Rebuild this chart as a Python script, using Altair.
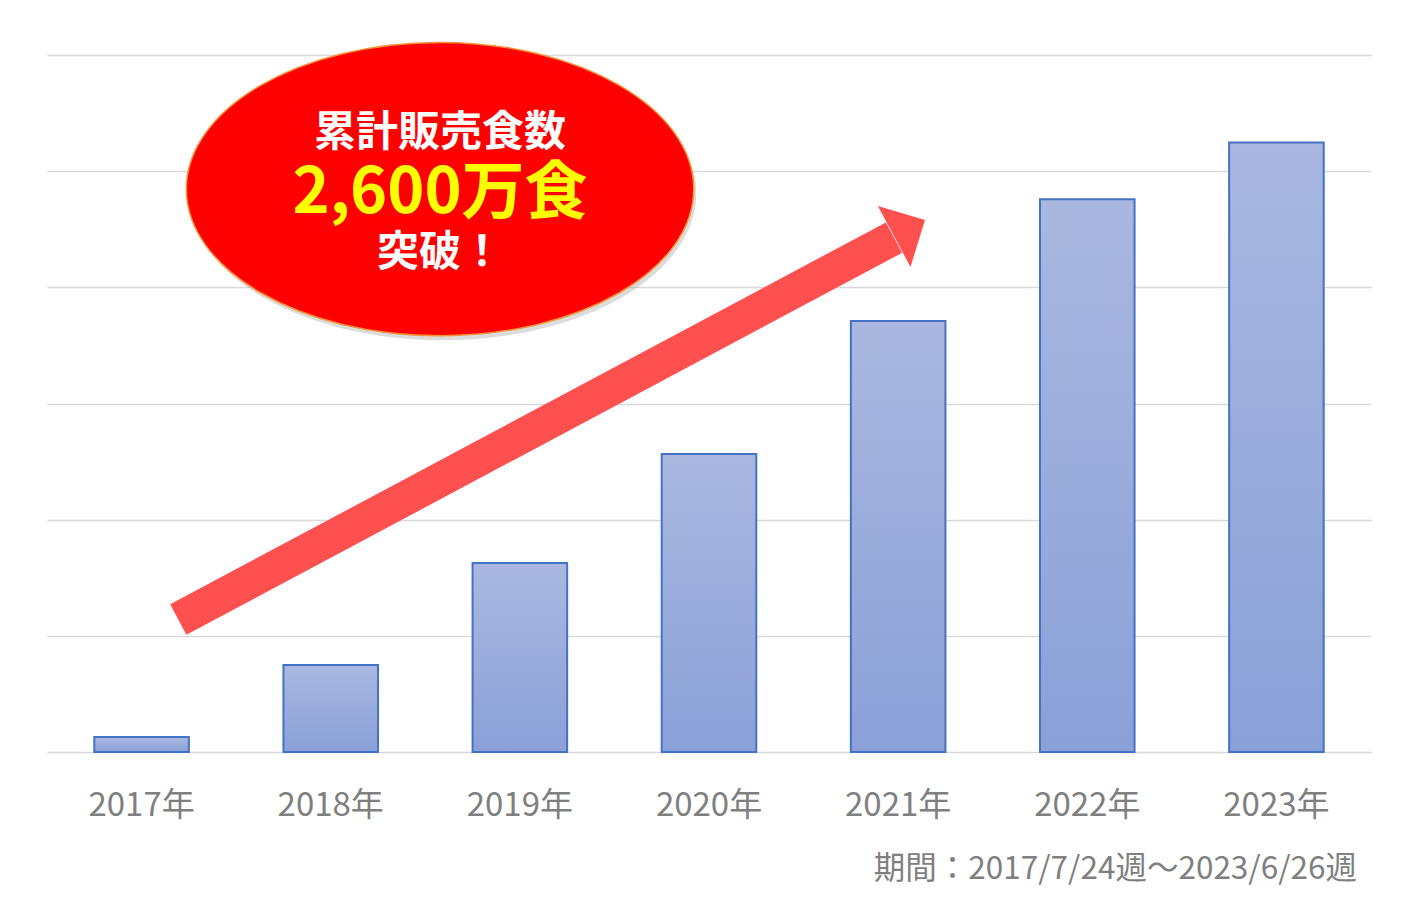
import altair as alt
import pandas as pd

# ---- chart data (cumulative meals sold, unit: 万食) ----
years = ["2017年", "2018年", "2019年", "2020年", "2021年", "2022年", "2023年"]
cumulative = [65, 374, 813, 1283, 1855, 2379, 2623]
y_ticks = [0, 500, 1000, 1500, 2000, 2500, 3000]

# ---- annotation texts ----
badge_lines = ["累計販売食数", "2,600万食", "突破！"]
footnote = "期間：2017/7/24週～2023/6/26週"

# annotation anchors in data space (x: category index 0..7, y: 万食)
badge_center = (2.078, 2423)
badge_line_y = [2664, 2402, 2148]
arrow_tail = (0.694, 570)
arrow_neck = (4.478, 2214)
arrow_tip = (4.642, 2290)

FONT = "Noto Sans CJK JP"
GRAY = "#7f7f7f"

bars_df = pd.DataFrame({"year": years, "value": cumulative})

ydom = alt.Scale(domain=[0, 3000])
xq = alt.Scale(domain=[0, 7])

bars = alt.Chart(bars_df).mark_bar(
    color=alt.Gradient(
        gradient="linear",
        stops=[alt.GradientStop(color="#aab8e0", offset=0),
               alt.GradientStop(color="#8aa0d8", offset=1)],
        x1=1, x2=1, y1=0, y2=1,
    ),
    stroke="#4472c4",
    strokeWidth=2,
).encode(
    x=alt.X("year:N", sort=years, title=None,
            scale=alt.Scale(paddingInner=0.5, paddingOuter=0.25),
            axis=alt.Axis(labelAngle=0, labelFont=FONT, labelFontSize=33,
                          labelColor=GRAY, labelPadding=37, ticks=False,
                          domain=False, grid=False)),
    y=alt.Y("value:Q", title=None, scale=ydom,
            axis=alt.Axis(values=y_ticks, labels=False, ticks=False, domain=False,
                          grid=True, gridColor="#d9d9d9", gridWidth=1.5)),
)

# arrow shaft
shaft_df = pd.DataFrame({"x": [arrow_tail[0]], "y": [arrow_tail[1]],
                         "x2": [arrow_neck[0]], "y2": [arrow_neck[1]]})
shaft = alt.Chart(shaft_df).mark_rule(color="#ff5050", strokeWidth=34.5, strokeCap="butt").encode(
    x=alt.X("x:Q", scale=xq, axis=None),
    x2="x2:Q",
    y=alt.Y("y:Q", scale=ydom, axis=None),
    y2="y2:Q",
)

# arrow head (tip at the symbol origin)
head_df = pd.DataFrame({"x": [arrow_tip[0]], "y": [arrow_tip[1]]})
head = alt.Chart(head_df).mark_point(
    shape="M 0 0 L -1 -0.986 L -1 0.986 Z",
    size=4900, filled=True, fill="#ff5050", opacity=1, strokeWidth=0, angle=331.8,
).encode(
    x=alt.X("x:Q", scale=xq, axis=None),
    y=alt.Y("y:Q", scale=ydom, axis=None),
)

# badge ellipse + shadow
badge_df = pd.DataFrame({"x": [badge_center[0]], "y": [badge_center[1]]})
ellipse_path = "M -1 0 A 1 0.578 0 1 0 1 0 A 1 0.578 0 1 0 -1 0 Z"
shadow_path = "M -0.99 0.018 A 1 0.578 0 1 0 1.01 0.018 A 1 0.578 0 1 0 -0.99 0.018 Z"
badge_shadow = alt.Chart(badge_df).mark_point(
    shape=shadow_path, size=257450, filled=True, fill="#9a9a9a", opacity=0.35, strokeWidth=0,
).encode(
    x=alt.X("x:Q", scale=xq, axis=None),
    y=alt.Y("y:Q", scale=ydom, axis=None),
)
badge = alt.Chart(badge_df).mark_point(
    shape=ellipse_path, size=257450, filled=True, fill="#ff0000", opacity=1,
    stroke="#f2923a", strokeWidth=1.5,
).encode(
    x=alt.X("x:Q", scale=xq, axis=None),
    y=alt.Y("y:Q", scale=ydom, axis=None),
)

def badge_text(i, color, size):
    df = pd.DataFrame({"x": [badge_center[0]], "y": [badge_line_y[i]], "t": [badge_lines[i]]})
    return alt.Chart(df).mark_text(
        font=FONT, fontWeight="bold", fontSize=size, color=color,
        align="center", baseline="middle",
    ).encode(
        x=alt.X("x:Q", scale=xq, axis=None),
        y=alt.Y("y:Q", scale=ydom, axis=None),
        text="t:N",
    )

t1 = badge_text(0, "#ffffff", 42)
t2 = badge_text(1, "#ffff00", 63)
t3 = badge_text(2, "#ffffff", 42)

annot = alt.layer(shaft, head, badge_shadow, badge, t1, t2, t3)

chart = alt.layer(bars, annot).resolve_scale(x="independent").resolve_axis(
    x="independent", y="independent"
).properties(
    width=1324,
    height=697,
    background="#ffffff",
    autosize=alt.AutoSizeParams(type="none"),
    padding={"left": 39, "top": 47, "right": 30, "bottom": 140},
    title=alt.TitleParams(
        text=footnote, orient="bottom", anchor="end", font=FONT, fontSize=31.5,
        fontWeight="normal", color=GRAY, offset=32, dx=-14,
    ),
).configure_view(strokeWidth=0)

chart.save("out.html", embed_options={"renderer": "svg", "actions": False})
